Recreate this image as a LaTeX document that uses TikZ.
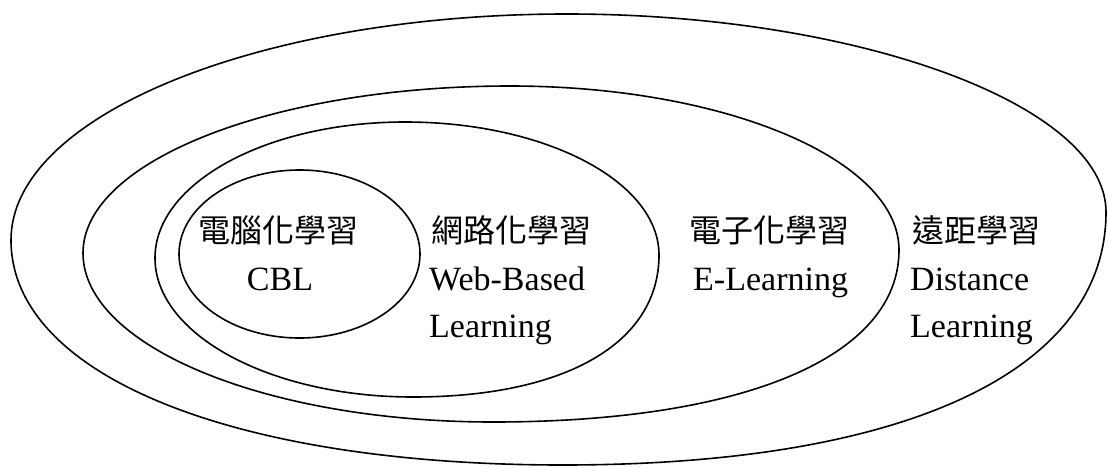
\documentclass[tikz,border=0pt]{standalone}
\usepackage{fontspec}
\setmainfont{Liberation Serif}
\newfontfamily\cjk{Noto Sans CJK TC}
\begin{document}
\begin{tikzpicture}[x={(1pt,0)}, y={(0,-1pt)},
  ring/.style={draw=black, line width=1.6pt},
  zh/.style={inner sep=0pt, font=\cjk\fontsize{32}{36}\selectfont},
  en/.style={inner sep=0pt, font=\fontsize{34}{40}\selectfont}]
\useasboundingbox (0,0) rectangle (1108,466);
% outer ring (Distance Learning)
\draw[ring] (11,240) .. controls (11,115.2) and (259.9,14) .. (567,14)
  .. controls (858.1,14) and (1106,105.1) .. (1106,212)
  .. controls (1106,371.4) and (905.1,465) .. (563,465)
  .. controls (231.8,465) and (11,375) .. (11,240) -- cycle;
% E-Learning ring
\draw[ring] (83,253) .. controls (83,160.8) and (274.2,86) .. (510,86)
  .. controls (724.8,86) and (899,159.4) .. (899,250)
  .. controls (899,356.6) and (744.7,422) .. (493,422)
  .. controls (266.6,422) and (83,346.3) .. (83,253) -- cycle;
% Web-Based Learning ring
\draw[ring] (155,258) .. controls (155,182.9) and (266.9,122) .. (405,122)
  .. controls (545.3,122) and (659,181.5) .. (659,255)
  .. controls (659,343) and (565.5,397) .. (413,397)
  .. controls (270.5,397) and (155,334.8) .. (155,258) -- cycle;
% CBL ring
\draw[ring] (299.5,254) ellipse [x radius=120.5, y radius=84];
% labels
\node[zh, anchor=base] (c1) at (278,242) {電腦化學習};
\node[en, anchor=base] (e1) at (280,290) {CBL};
\node[zh, anchor=base west] (c2) at (431,242) {網路化學習};
\node[en, anchor=base west] (e2a) at (429,290) {Web-Based};
\node[en, anchor=base west] (e2b) at (429,337) {Learning};
\node[zh, anchor=base west] (c3) at (689,242) {電子化學習};
\node[en, anchor=base west] (e3) at (693,290) {E-Learning};
\node[zh, anchor=base west] (c4) at (912,242) {遠距學習};
\node[en, anchor=base west] (e4a) at (910,290) {Distance};
\node[en, anchor=base west] (e4b) at (910,337) {Learning};
\end{tikzpicture}
\end{document}
